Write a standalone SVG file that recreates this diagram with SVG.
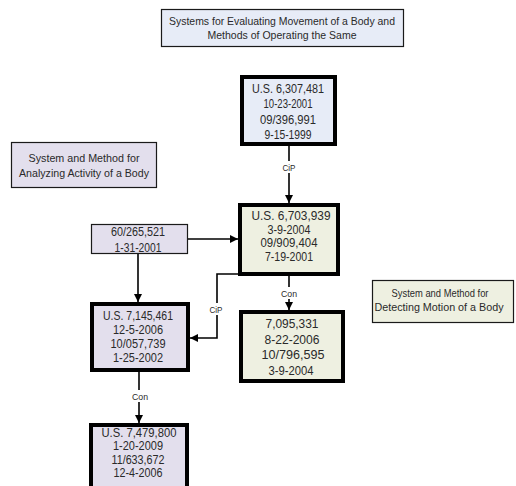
<svg xmlns="http://www.w3.org/2000/svg" width="516" height="486" viewBox="0 0 516 486">
<defs>
<style>
text{font-family:"Liberation Sans",Arial,sans-serif;font-size:11px;fill:#2a2a2a;text-anchor:middle}
.pt{font-size:12px}
.lbl{font-size:9.5px}
.thin{stroke:#1a1a1a;stroke-width:1.2}
.thick{stroke:#000;stroke-width:4}
.blue{fill:#e7ecf7}
.green{fill:#eef0e1}
.lav{fill:#e3dfed}
.conn{stroke:#000;stroke-width:1.6;fill:none}
.lblbg{fill:#fff}
</style>
<marker id="ah" markerWidth="8" markerHeight="8" refX="8" refY="4" orient="auto" markerUnits="userSpaceOnUse">
<path d="M0,0 L8,4 L0,8 Z" fill="#000"/>
</marker>
</defs>
<rect width="516" height="486" fill="#fff"/>

<g id="connectors">
<path class="conn" d="M289,146 V203" marker-end="url(#ah)"/>
<path class="conn" d="M188,239 H238" marker-end="url(#ah)"/>
<path class="conn" d="M138,254 V302" marker-end="url(#ah)"/>
<path class="conn" d="M240,274 H217 V338 H190" marker-end="url(#ah)"/>
<path class="conn" d="M289,276 V310" marker-end="url(#ah)"/>
<path class="conn" d="M139,372 V423" marker-end="url(#ah)"/>
<rect class="lblbg" x="281" y="161" width="16" height="12"/>
<text class="lbl" x="289" y="170.5" textLength="13" lengthAdjust="spacingAndGlyphs">CiP</text>
<rect class="lblbg" x="208" y="303" width="16" height="12"/>
<text class="lbl" x="216" y="312.5" textLength="13" lengthAdjust="spacingAndGlyphs">CiP</text>
<rect class="lblbg" x="280" y="287" width="18" height="12"/>
<text class="lbl" x="289" y="296.5" textLength="16" lengthAdjust="spacingAndGlyphs">Con</text>
<rect class="lblbg" x="131" y="390" width="18" height="12"/>
<text class="lbl" x="140" y="399.5" textLength="16" lengthAdjust="spacingAndGlyphs">Con</text>
</g>

<g id="title">
<rect class="thin blue" x="161.5" y="9.5" width="242" height="37"/>
<text x="282" y="25" textLength="226" lengthAdjust="spacingAndGlyphs">Systems for Evaluating Movement of a Body and</text>
<text x="282" y="39" textLength="149" lengthAdjust="spacingAndGlyphs">Methods of Operating the Same</text>
</g>

<g id="analyzing">
<rect class="thin lav" x="11.5" y="142.5" width="145" height="45"/>
<text x="84" y="162" textLength="111" lengthAdjust="spacingAndGlyphs">System and Method for</text>
<text x="84" y="177" textLength="130" lengthAdjust="spacingAndGlyphs">Analyzing Activity of a Body</text>
</g>

<g id="detecting">
<rect class="thin green" x="372.5" y="280.5" width="141" height="42"/>
<text x="440" y="297" textLength="97" lengthAdjust="spacingAndGlyphs">System and Method for</text>
<text x="439" y="311" textLength="129" lengthAdjust="spacingAndGlyphs">Detecting Motion of a Body</text>
</g>

<g id="p6307481">
<rect class="thick blue" x="242" y="77" width="93" height="67"/>
<text class="pt" x="288" y="92.5" textLength="72" lengthAdjust="spacingAndGlyphs">U.S. 6,307,481</text>
<text class="pt" x="288" y="108" textLength="49" lengthAdjust="spacingAndGlyphs">10-23-2001</text>
<text class="pt" x="288" y="123.5" textLength="56" lengthAdjust="spacingAndGlyphs">09/396,991</text>
<text class="pt" x="288" y="139" textLength="47" lengthAdjust="spacingAndGlyphs">9-15-1999</text>
</g>

<g id="p60265521">
<rect class="thin lav" x="91.5" y="224.5" width="96" height="29"/>
<text class="pt" x="138" y="235.5" textLength="54" lengthAdjust="spacingAndGlyphs">60/265,521</text>
<text class="pt" x="138" y="252" textLength="47" lengthAdjust="spacingAndGlyphs">1-31-2001</text>
</g>

<g id="p6703939">
<rect class="thick green" x="240" y="205" width="98" height="69"/>
<text class="pt" x="291" y="220" textLength="79" lengthAdjust="spacingAndGlyphs">U.S. 6,703,939</text>
<text class="pt" x="289" y="233.5" textLength="43" lengthAdjust="spacingAndGlyphs">3-9-2004</text>
<text class="pt" x="289" y="247" textLength="57" lengthAdjust="spacingAndGlyphs">09/909,404</text>
<text class="pt" x="289" y="260.5" textLength="48" lengthAdjust="spacingAndGlyphs">7-19-2001</text>
</g>

<g id="p7095331">
<rect class="thick green" x="241" y="312" width="102" height="69"/>
<text class="pt" x="292" y="327.5" textLength="53" lengthAdjust="spacingAndGlyphs">7,095,331</text>
<text class="pt" x="292" y="343.5" textLength="55" lengthAdjust="spacingAndGlyphs">8-22-2006</text>
<text class="pt" x="293" y="359" textLength="63" lengthAdjust="spacingAndGlyphs">10/796,595</text>
<text class="pt" x="291" y="374.5" textLength="45" lengthAdjust="spacingAndGlyphs">3-9-2004</text>
</g>

<g id="p7145461">
<rect class="thick lav" x="92" y="304" width="96" height="66"/>
<text class="pt" x="138" y="319.5" textLength="70" lengthAdjust="spacingAndGlyphs">U.S. 7,145,461</text>
<text class="pt" x="138" y="333.5" textLength="50" lengthAdjust="spacingAndGlyphs">12-5-2006</text>
<text class="pt" x="138" y="347.5" textLength="55" lengthAdjust="spacingAndGlyphs">10/057,739</text>
<text class="pt" x="138" y="361.5" textLength="50" lengthAdjust="spacingAndGlyphs">1-25-2002</text>
</g>

<g id="p7479800">
<rect class="thick lav" x="91" y="425" width="96" height="70"/>
<text class="pt" x="139" y="436.5" textLength="75" lengthAdjust="spacingAndGlyphs">U.S. 7,479,800</text>
<text class="pt" x="138" y="450" textLength="50" lengthAdjust="spacingAndGlyphs">1-20-2009</text>
<text class="pt" x="138" y="463.5" textLength="53" lengthAdjust="spacingAndGlyphs">11/633,672</text>
<text class="pt" x="138" y="477" textLength="49" lengthAdjust="spacingAndGlyphs">12-4-2006</text>
</g>
</svg>
